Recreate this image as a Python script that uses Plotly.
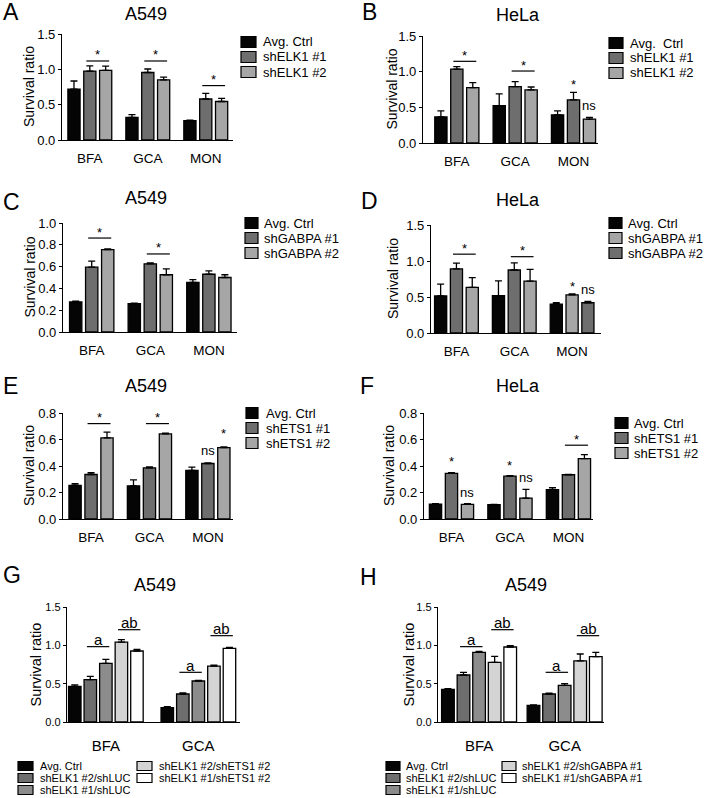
import plotly.graph_objects as go

W, H = 712, 798

# ---------------- data ----------------
CATS3 = ["BFA", "GCA", "MON"]
CATS2 = ["BFA", "GCA"]

# A: A549, shELK1
A_names = ["Avg. Ctrl", "shELK1 #1", "shELK1 #2"]
A_ctrl = [0.72, 0.32, 0.275]
A_ctrl_sem = [0.115, 0.04, 0.006]
A_sh1 = [0.975, 0.955, 0.58]
A_sh1_sem = [0.075, 0.05, 0.08]
A_sh2 = [0.985, 0.85, 0.545]
A_sh2_sem = [0.06, 0.04, 0.045]

# B: HeLa, shELK1
B_names = ["Avg.  Ctrl", "shELK1 #1", "shELK1 #2"]
B_ctrl = [0.365, 0.525, 0.395]
B_ctrl_sem = [0.085, 0.165, 0.055]
B_sh1 = [1.035, 0.79, 0.605]
B_sh1_sem = [0.035, 0.07, 0.105]
B_sh2 = [0.775, 0.745, 0.335]
B_sh2_sem = [0.07, 0.04, 0.025]

# C: A549, shGABPA
C_names = ["Avg. Ctrl", "shGABPA #1", "shGABPA #2"]
C_ctrl = [0.275, 0.26, 0.455]
C_ctrl_sem = [0.008, 0.004, 0.025]
C_sh1 = [0.595, 0.625, 0.53]
C_sh1_sem = [0.055, 0.008, 0.03]
C_sh2 = [0.755, 0.525, 0.50]
C_sh2_sem = [0.008, 0.055, 0.025]

# D: HeLa, shGABPA (bar order differs in MON group)
D_names = ["Avg. Ctrl", "shGABPA #1", "shGABPA #2"]
D_ctrl = [0.515, 0.52, 0.40]
D_ctrl_sem = [0.165, 0.205, 0.02]
D_bar2 = [0.89, 0.875, 0.53]
D_bar2_sem = [0.08, 0.10, 0.012]
D_bar2_is = ["shGABPA #2", "shGABPA #2", "shGABPA #1"]
D_bar3 = [0.635, 0.72, 0.42]
D_bar3_sem = [0.135, 0.165, 0.02]
D_bar3_is = ["shGABPA #1", "shGABPA #1", "shGABPA #2"]

# E: A549, shETS1
E_names = ["Avg. Ctrl", "shETS1 #1", "shETS1 #2"]
E_ctrl = [0.253, 0.25, 0.366]
E_ctrl_sem = [0.013, 0.046, 0.025]
E_sh1 = [0.336, 0.386, 0.419]
E_sh1_sem = [0.013, 0.008, 0.005]
E_sh2 = [0.612, 0.642, 0.539]
E_sh2_sem = [0.043, 0.005, 0.005]

# F: HeLa, shETS1
F_names = ["Avg. Ctrl", "shETS1 #1", "shETS1 #2"]
F_ctrl = [0.113, 0.108, 0.221]
F_ctrl_sem = [0.002, 0.003, 0.015]
F_sh1 = [0.344, 0.323, 0.334]
F_sh1_sem = [0.005, 0.004, 0.002]
F_sh2 = [0.11, 0.158, 0.456]
F_sh2_sem = [0.005, 0.065, 0.03]

# G: A549, shELK1 + shETS1
G_names = ["Avg. Ctrl", "shELK1 #2/shLUC", "shELK1 #1/shLUC",
           "shELK1 #2/shETS1 #2", "shELK1 #1/shETS1 #2"]
G_vals = [[0.465, 0.187], [0.552, 0.365], [0.765, 0.535], [1.043, 0.73], [0.926, 0.96]]
G_sems = [[0.018, 0.013], [0.044, 0.013], [0.052, 0.009], [0.031, 0.013], [0.022, 0.014]]

# H: A549, shELK1 + shGABPA
H_names = ["Avg. Ctrl", "shELK1 #2/shLUC", "shELK1 #1/shLUC",
           "shELK1 #2/shGABPA #1", "shELK1 #1/shGABPA #1"]
H_vals = [[0.426, 0.217], [0.613, 0.365], [0.909, 0.478], [0.778, 0.796], [0.978, 0.852]]
H_sems = [[0.01, 0.005], [0.035, 0.01], [0.013, 0.022], [0.079, 0.091], [0.018, 0.057]]

# significance marks: (category index, first bar, last bar, label, y)
A_sig = [(0, 1, 2, "*", 1.118), (1, 1, 2, "*", 1.118), (2, 1, 2, "*", 0.77)]
B_sig = [(0, 1, 2, "*", 1.145), (1, 1, 2, "*", 1.009), (2, 1, 1, "*", 0.86), (2, 2, 2, "ns", 0.514)]
C_sig = [(0, 1, 2, "*", 0.862), (1, 1, 2, "*", 0.716)]
D_sig = [(0, 1, 2, "*", 1.095), (1, 1, 2, "*", 1.06), (2, 1, 1, "*", 0.694), (2, 2, 2, "ns", 0.587)]
E_sig = [(0, 1, 2, "*", 0.72), (1, 1, 2, "*", 0.72), (2, 1, 1, "ns", 0.507), (2, 2, 2, "*", 0.665)]
F_sig = [(0, 1, 1, "*", 0.456), (0, 2, 2, "ns", 0.193), (1, 1, 1, "*", 0.424),
         (1, 2, 2, "ns", 0.306), (2, 1, 2, "*", 0.557)]
G_sig = [(0, 1, 2, "a", 0.983), (0, 3, 4, "ab", 1.204), (1, 1, 2, "a", 0.648), (1, 3, 4, "ab", 1.126)]
H_sig = [(0, 1, 2, "a", 0.983), (0, 3, 4, "ab", 1.204), (1, 1, 2, "a", 0.648), (1, 3, 4, "ab", 1.126)]

# ---------------- styles ----------------
FONT = "Liberation Sans"
BLACK = "#050505"
DARK = "#6e6e6e"
LIGHT = "#a6a6a6"
MID = "#8c8c8c"
PALE = "#d4d4d4"
WHITE = "#ffffff"
COL3 = [BLACK, DARK, LIGHT]
COL5 = [BLACK, DARK, MID, PALE, WHITE]
D_COLMAP = {"shGABPA #1": LIGHT, "shGABPA #2": DARK}


def px(x):
    return x / W


def py(y):
    return 1 - y / H


panels = [
    dict(letter="A", title="A549", cats=CATS3,
         series=[(A_ctrl, A_ctrl_sem, BLACK), (A_sh1, A_sh1_sem, DARK), (A_sh2, A_sh2_sem, LIGHT)],
         legend=list(zip(A_names, COL3)), sig=A_sig, ymax=1.5, dtick=0.5,
         xd=(62, 233), yd=(34, 140), xr=(-0.48, 2.47), gf=0.82, bw=0.21,
         letter_xy=(11, 12), title_xy=(146, 14), ytitle_x=29,
         leg=dict(sx=241, sw=15, sh=11, tx=262, rows=[42, 57, 72], fs=13, cols=1)),
    dict(letter="B", title="HeLa", cats=CATS3,
         series=[(B_ctrl, B_ctrl_sem, BLACK), (B_sh1, B_sh1_sem, DARK), (B_sh2, B_sh2_sem, LIGHT)],
         legend=list(zip(B_names, COL3)), sig=B_sig, ymax=1.5, dtick=0.5,
         xd=(423, 598), yd=(36, 143), xr=(-0.58, 2.42), gf=0.82, bw=0.21,
         letter_xy=(369, 12), title_xy=(518, 15), ytitle_x=392,
         leg=dict(sx=609, sw=14, sh=11, tx=629, rows=[43, 58, 73], fs=13, cols=1)),
    dict(letter="C", title="A549", cats=CATS3,
         series=[(C_ctrl, C_ctrl_sem, BLACK), (C_sh1, C_sh1_sem, DARK), (C_sh2, C_sh2_sem, LIGHT)],
         legend=list(zip(C_names, COL3)), sig=C_sig, ymax=1.0, dtick=0.2,
         xd=(63, 237), yd=(223, 332), xr=(-0.49, 2.48), gf=0.82, bw=0.21,
         letter_xy=(11, 202), title_xy=(146, 198), ytitle_x=29,
         leg=dict(sx=245, sw=13, sh=11, tx=263, rows=[223, 238, 253], fs=13, cols=1)),
    dict(letter="D", title="HeLa", cats=CATS3,
         series=[(D_ctrl, D_ctrl_sem, BLACK),
                 (D_bar2, D_bar2_sem, [D_COLMAP[s] for s in D_bar2_is]),
                 (D_bar3, D_bar3_sem, [D_COLMAP[s] for s in D_bar3_is])],
         legend=[(D_names[0], BLACK), (D_names[1], D_COLMAP[D_names[1]]), (D_names[2], D_COLMAP[D_names[2]])],
         sig=D_sig, ymax=1.5, dtick=0.5,
         xd=(431, 601), yd=(225, 333), xr=(-0.44, 2.5), gf=0.82, bw=0.21,
         letter_xy=(369, 201), title_xy=(518, 200), ytitle_x=393,
         leg=dict(sx=609, sw=13, sh=11, tx=627, rows=[223, 238, 253], fs=13, cols=1)),
    dict(letter="E", title="A549", cats=CATS3,
         series=[(E_ctrl, E_ctrl_sem, BLACK), (E_sh1, E_sh1_sem, DARK), (E_sh2, E_sh2_sem, LIGHT)],
         legend=list(zip(E_names, COL3)), sig=E_sig, ymax=0.8, dtick=0.2,
         xd=(63, 233), yd=(413, 519), xr=(-0.48, 2.43), gf=0.82, bw=0.21,
         letter_xy=(10, 386), title_xy=(146, 386), ytitle_x=29,
         leg=dict(sx=246, sw=12, sh=11, tx=265, rows=[413, 428, 443], fs=13, cols=1)),
    dict(letter="F", title="HeLa", cats=CATS3,
         series=[(F_ctrl, F_ctrl_sem, BLACK), (F_sh1, F_sh1_sem, DARK), (F_sh2, F_sh2_sem, LIGHT)],
         legend=list(zip(F_names, COL3)), sig=F_sig, ymax=0.8, dtick=0.2,
         xd=(424, 593), yd=(413, 519), xr=(-0.47, 2.42), gf=0.82, bw=0.21,
         letter_xy=(367, 386), title_xy=(518, 386), ytitle_x=389,
         leg=dict(sx=615, sw=13, sh=11, tx=633, rows=[423, 438, 453], fs=13, cols=1)),
    dict(letter="G", title="A549", cats=CATS2,
         series=[(G_vals[i], G_sems[i], COL5[i]) for i in range(5)],
         legend=list(zip(G_names, COL5)), sig=G_sig, ymax=1.5, dtick=0.5,
         xd=(67, 240), yd=(607, 722), xr=(-0.42, 1.45), gf=0.84, bw=0.135,
         letter_xy=(12, 575), title_xy=(155, 585), ytitle_x=35,
         leg=dict(sx=[18, 137], sw=15, sh=9, tx=[39, 158], rows=[766, 778, 790], fs=11, cols=2)),
    dict(letter="H", title="A549", cats=CATS2,
         series=[(H_vals[i], H_sems[i], COL5[i]) for i in range(5)],
         legend=list(zip(H_names, COL5)), sig=H_sig, ymax=1.5, dtick=0.5,
         xd=(438, 604), yd=(607, 722), xr=(-0.48, 1.46), gf=0.91, bw=0.148,
         letter_xy=(368, 577), title_xy=(526, 585), ytitle_x=408,
         leg=dict(sx=[386, 502], sw=14, sh=9, tx=[405, 521], rows=[766, 778, 790], fs=11, cols=2)),
]

fig = go.Figure()
annotations = []
shapes = []
layout_axes = {}

for k, p in enumerate(panels, start=1):
    xa = "x" if k == 1 else f"x{k}"
    ya = "y" if k == 1 else f"y{k}"
    small = p["letter"] in ("G", "H")
    n = len(p["series"])
    slot = p["gf"] / n
    centers = [-p["gf"] / 2 + (i + 0.5) * slot for i in range(n)]

    for i, (vals, sems, color) in enumerate(p["series"]):
        fig.add_trace(go.Bar(
            x=p["cats"], y=vals, xaxis=xa, yaxis=ya,
            offset=centers[i] - p["bw"] / 2, width=p["bw"],
            marker=dict(color=color, line=dict(color="black", width=1.3)),
            error_y=dict(type="data", array=sems, arrayminus=[0] * len(vals),
                         symmetric=False, color="black", thickness=1.3, width=3.5),
            showlegend=False, hoverinfo="x+y",
        ))

    layout_axes["xaxis" if k == 1 else f"xaxis{k}"] = dict(
        domain=[px(p["xd"][0]), px(p["xd"][1])], anchor=ya, type="category",
        range=list(p["xr"]), showline=True, linecolor="black", linewidth=1.3,
        ticks="outside", ticklen=10 if small else 6, tickcolor="rgba(0,0,0,0)",
        tickfont=dict(size=15 if small else 13.5, color="black", family=FONT),
        showgrid=False, zeroline=False, fixedrange=True, automargin=False,
    )
    layout_axes["yaxis" if k == 1 else f"yaxis{k}"] = dict(
        domain=[py(p["yd"][1]), py(p["yd"][0])], anchor=xa,
        range=[0, p["ymax"]], dtick=p["dtick"], tick0=0, tickformat=".1f",
        showline=True, linecolor="black", linewidth=1.3,
        ticks="outside", ticklen=3, tickwidth=1.2, tickcolor="black",
        tickfont=dict(size=11 if small else 13, color="black", family=FONT),
        showgrid=False, zeroline=False, fixedrange=True, automargin=False,
    )

    # panel letter, title, y title
    annotations.append(dict(text=p["letter"], x=px(p["letter_xy"][0]), y=py(p["letter_xy"][1]),
                            xref="paper", yref="paper", showarrow=False, xanchor="center", yanchor="middle",
                            font=dict(size=23, color="black", family=FONT)))
    annotations.append(dict(text=p["title"], x=px(p["title_xy"][0]), y=py(p["title_xy"][1]),
                            xref="paper", yref="paper", showarrow=False, xanchor="center", yanchor="middle",
                            font=dict(size=18, color="black", family=FONT)))
    annotations.append(dict(text="Survival ratio", x=px(p["ytitle_x"]),
                            y=py((p["yd"][0] + p["yd"][1]) / 2), textangle=-90,
                            xref="paper", yref="paper", showarrow=False, xanchor="center", yanchor="middle",
                            font=dict(size=14.5 if small else 14, color="black", family=FONT)))

    # significance marks
    for (ci, b0, b1, lab, yv) in p["sig"]:
        star = lab == "*"
        fs = 15 if small else 13
        corr = -3 if star else 1
        if b0 != b1:
            mid = ci + (centers[b0] + centers[b1]) / 2
            half = 0.72 * slot
            shapes.append(dict(type="line", xref=xa, yref=ya, x0=mid - half, x1=mid + half,
                               y0=yv, y1=yv, line=dict(color="black", width=1.2)))
            annotations.append(dict(text=lab, x=mid, y=yv, xref=xa, yref=ya, showarrow=False,
                                    xanchor="center", yanchor="middle",
                                    yshift=(9 if star else 6) + corr,
                                    font=dict(size=fs, color="black", family=FONT)))
        else:
            annotations.append(dict(text=lab, x=ci + centers[b0], y=yv, xref=xa, yref=ya, showarrow=False,
                                    xanchor="center", yanchor="middle", yshift=corr,
                                    font=dict(size=fs, color="black", family=FONT)))

    # legend (drawn manually for the compact spacing of the reference)
    lg = p["leg"]
    for j, (name, color) in enumerate(p["legend"]):
        if lg["cols"] == 1:
            row = j
            sx, tx = lg["sx"], lg["tx"]
        else:
            col, row = (0, j) if j < 3 else (1, j - 3)
            sx, tx = lg["sx"][col], lg["tx"][col]
        yc = lg["rows"][row]
        shapes.append(dict(type="rect", xref="paper", yref="paper",
                           x0=px(sx), x1=px(sx + lg["sw"]),
                           y0=py(yc + lg["sh"] / 2), y1=py(yc - lg["sh"] / 2),
                           fillcolor=color, line=dict(color="black", width=1.2)))
        annotations.append(dict(text=name, x=px(tx), y=py(yc), xref="paper", yref="paper",
                                showarrow=False, xanchor="left", yanchor="middle", borderpad=0,
                                font=dict(size=lg["fs"], color="black", family=FONT)))

fig.update_layout(
    template="none",
    width=W, height=H, margin=dict(l=0, r=0, t=0, b=0, autoexpand=False),
    paper_bgcolor="white", plot_bgcolor="white",
    barmode="overlay", showlegend=False,
    font=dict(family=FONT, color="black"),
    annotations=annotations, shapes=shapes,
    **layout_axes,
)

fig.write_html(
    "out.html",
    config={"displayModeBar": False},
    post_script="document.body.style.margin='0px';document.body.style.overflow='hidden';",
)
